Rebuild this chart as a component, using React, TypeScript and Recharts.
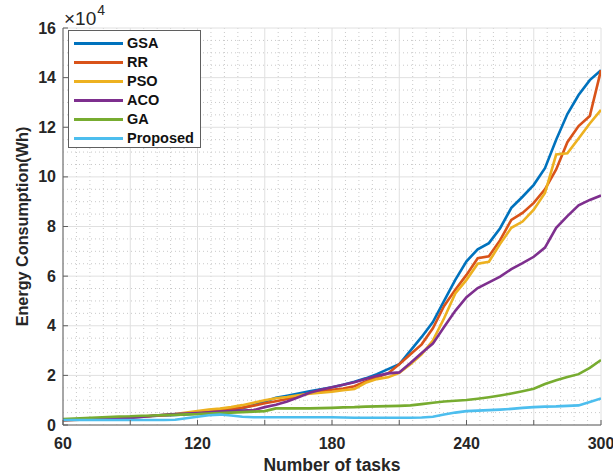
import React from 'react';
import { LineChart, Line, XAxis, YAxis, CartesianGrid } from 'recharts';

const tasks = [60, 65, 70, 75, 80, 85, 90, 95, 100, 105, 110, 115, 120, 125, 130, 135, 140, 145, 150, 155, 160, 165, 170, 175, 180, 185, 190, 195, 200, 205, 210, 215, 220, 225, 230, 235, 240, 245, 250, 255, 260, 265, 270, 275, 280, 285, 290, 295, 300];

// values in units of 10^4 Wh
const gsa = [0.20, 0.22, 0.24, 0.26, 0.28, 0.30, 0.32, 0.34, 0.36, 0.38, 0.40,
  0.43, 0.47, 0.52, 0.57, 0.62, 0.68, 0.80, 0.95, 1.10, 1.18, 1.27,
  1.36, 1.44, 1.52, 1.62, 1.74, 1.88, 2.05, 2.25, 2.45, 3.00, 3.55,
  4.15, 5.00, 5.85, 6.60, 7.08, 7.33, 7.93, 8.75, 9.20, 9.68, 10.35,
  11.50, 12.53, 13.30, 13.90, 14.30];
const rr = [0.18, 0.20, 0.22, 0.24, 0.26, 0.28, 0.30, 0.33, 0.36, 0.39, 0.42,
  0.46, 0.52, 0.57, 0.60, 0.64, 0.70, 0.78, 0.88, 0.96, 1.05, 1.18,
  1.28, 1.36, 1.42, 1.47, 1.56, 1.75, 1.92, 2.08, 2.45, 2.85, 3.25,
  3.90, 4.80, 5.45, 6.05, 6.72, 6.80, 7.45, 8.27, 8.55, 8.95, 9.50,
  10.30, 11.40, 12.05, 12.45, 14.30];
const pso = [0.20, 0.22, 0.24, 0.26, 0.28, 0.30, 0.32, 0.34, 0.37, 0.40, 0.44,
  0.50, 0.56, 0.62, 0.66, 0.72, 0.80, 0.90, 1.00, 1.08, 1.13, 1.20,
  1.26, 1.30, 1.34, 1.40, 1.45, 1.70, 1.85, 1.92, 2.10, 2.45, 2.85,
  3.40, 4.30, 5.30, 5.85, 6.50, 6.58, 7.30, 7.95, 8.20, 8.68, 9.35,
  10.90, 10.95, 11.55, 12.15, 12.70];
const aco = [0.20, 0.21, 0.22, 0.23, 0.24, 0.26, 0.28, 0.32, 0.37, 0.41, 0.44,
  0.46, 0.48, 0.51, 0.54, 0.56, 0.58, 0.60, 0.72, 0.82, 0.95, 1.12,
  1.30, 1.42, 1.52, 1.62, 1.72, 1.85, 1.98, 2.08, 2.12, 2.50, 2.90,
  3.28, 3.95, 4.60, 5.15, 5.52, 5.75, 5.98, 6.28, 6.52, 6.78, 7.15,
  7.95, 8.42, 8.85, 9.07, 9.25];
const ga = [0.24, 0.26, 0.28, 0.30, 0.32, 0.34, 0.35, 0.37, 0.38, 0.40, 0.41,
  0.43, 0.44, 0.46, 0.48, 0.50, 0.52, 0.54, 0.56, 0.67, 0.67, 0.67,
  0.67, 0.68, 0.69, 0.71, 0.72, 0.74, 0.75, 0.76, 0.77, 0.79, 0.84,
  0.90, 0.95, 0.98, 1.01, 1.06, 1.12, 1.19, 1.27, 1.36, 1.46, 1.65,
  1.80, 1.93, 2.05, 2.30, 2.62];
const proposed = [0.20, 0.20, 0.20, 0.20, 0.20, 0.20, 0.20, 0.20, 0.20, 0.20, 0.21,
  0.27, 0.33, 0.39, 0.42, 0.38, 0.33, 0.31, 0.31, 0.31, 0.31, 0.31,
  0.31, 0.31, 0.31, 0.30, 0.29, 0.29, 0.29, 0.29, 0.29, 0.29, 0.30,
  0.33, 0.42, 0.50, 0.56, 0.58, 0.60, 0.62, 0.65, 0.69, 0.72, 0.74,
  0.75, 0.77, 0.79, 0.93, 1.07];

const seriesNames = ['GSA', 'RR', 'PSO', 'ACO', 'GA', 'Proposed'];
const seriesValues = [gsa, rr, pso, aco, ga, proposed];
const seriesColors = ['#0072BD', '#D95319', '#EDB120', '#7E2F8E', '#77AC30', '#4DBEEE'];

const xTicks = [60, 90, 120, 150, 180, 210, 240, 270, 300];
const xLabelTicks = [60, 120, 180, 240, 300];
const yTicks = [0, 2, 4, 6, 8, 10, 12, 14, 16];
const xDomain = [60, 300];
const yDomain = [0, 16];

const xTitle = 'Number of tasks';
const yTitle = 'Energy Consumption(Wh)';
const exponentBase = '×10';
const exponent = '4';

const data = tasks.map((t, i) => {
  const row: any = { tasks: t };
  seriesNames.forEach((n, k) => { row[n] = seriesValues[k][i]; });
  return row;
});

const minorX: number[] = [];
for (let v = 66; v < 300; v += 6) if ((v - 60) % 30 !== 0) minorX.push(v);
const minorY: number[] = [];
for (let v = 0.5; v < 16; v += 0.5) if (v % 2 !== 0) minorY.push(v);

const FONT = '"Liberation Sans", Arial, Helvetica, sans-serif';
const AXIS = '#5f5f5f';
const TXT = '#262626';
const TICK = 5;

const BottomTick = (p: any) => {
  const { x, y, payload } = p;
  return (
    <g>
      <line x1={x} x2={x} y1={y} y2={y - TICK} stroke={AXIS} strokeWidth={1} />
      {xLabelTicks.includes(payload.value) && (
        <text x={x} y={y + 18} textAnchor="middle" dominantBaseline="central"
          fontFamily={FONT} fontWeight="bold" fontSize={16} fill={TXT}>{payload.value}</text>
      )}
    </g>
  );
};
const TopTick = (p: any) => {
  const { x, y } = p;
  return <line x1={x} x2={x} y1={y} y2={y + TICK} stroke={AXIS} strokeWidth={1} />;
};
const LeftTick = (p: any) => {
  const { x, y, payload } = p;
  return (
    <g>
      <line x1={x} x2={x + TICK} y1={y} y2={y} stroke={AXIS} strokeWidth={1} />
      <text x={x - 7} y={y} textAnchor="end" dominantBaseline="central"
        fontFamily={FONT} fontWeight="bold" fontSize={16} fill={TXT}>{payload.value}</text>
    </g>
  );
};
const RightTick = (p: any) => {
  const { x, y } = p;
  return <line x1={x} x2={x - TICK} y1={y} y2={y} stroke={AXIS} strokeWidth={1} />;
};

const XTitle = (p: any) => {
  const vb = p.viewBox || { x: 63, y: 425, width: 538, height: 50 };
  return (
    <text x={vb.x + vb.width / 2} y={vb.y + 40} textAnchor="middle" dominantBaseline="central"
      fontFamily={FONT} fontWeight="bold" fontSize={17.5} fill={TXT}>{xTitle}</text>
  );
};
const YTitle = (p: any) => {
  const vb = p.viewBox || { x: 0, y: 28, width: 63, height: 397 };
  const cx = vb.x + 22;
  const cy = vb.y + vb.height / 2;
  return (
    <text x={cx} y={cy} transform={`rotate(-90 ${cx} ${cy})`} textAnchor="middle" dominantBaseline="central"
      fontFamily={FONT} fontWeight="bold" fontSize={16.2} fill={TXT}>{yTitle}</text>
  );
};

export default function App() {
  return (
    <div style={{ position: 'absolute', left: 0, top: 0, width: 613, height: 475, background: '#fff', fontFamily: FONT }}>
      <LineChart width={613} height={475} data={data} margin={{ top: 28, right: 12, bottom: 0, left: 0 }}>
        <CartesianGrid horizontalValues={minorY} verticalValues={minorX} stroke="#c9c9c9" strokeDasharray="1 3" strokeWidth={1} />
        <CartesianGrid horizontalValues={yTicks} verticalValues={xTicks} stroke="#e0e0e0" strokeWidth={1} />
        <XAxis dataKey="tasks" type="number" domain={xDomain} ticks={xTicks} interval={0}
          height={50} tickSize={0} tickMargin={0} tick={<BottomTick />} axisLine={{ stroke: AXIS }}
          allowDataOverflow label={{ content: <XTitle /> }} />
        <XAxis xAxisId="top" orientation="top" dataKey="tasks" type="number" domain={xDomain} ticks={xTicks}
          interval={0} height={0} tickSize={0} tickMargin={0} tick={<TopTick />} axisLine={{ stroke: AXIS }} />
        <YAxis type="number" domain={yDomain} ticks={yTicks} interval={0} width={63}
          tickSize={0} tickMargin={0} tick={<LeftTick />} axisLine={{ stroke: AXIS }}
          label={{ content: <YTitle /> }} />
        <YAxis yAxisId="right" orientation="right" type="number" domain={yDomain} ticks={yTicks} interval={0}
          width={0} tickSize={0} tickMargin={0} tick={<RightTick />} axisLine={{ stroke: AXIS }} />
        {seriesNames.map((n, k) => (
          <Line key={n} type="linear" dataKey={n} stroke={seriesColors[k]} strokeWidth={2.6}
            dot={false} activeDot={false} isAnimationActive={false} />
        ))}
      </LineChart>
      <svg width={130} height={28} style={{ position: 'absolute', left: 0, top: 0 }}>
        <text x={64} y={25} fontFamily={FONT} fill={TXT}>
          <tspan fontSize={19}>{exponentBase}</tspan>
          <tspan dx={1} dy={-10} fontSize={14}>{exponent}</tspan>
        </text>
      </svg>
      <div style={{ position: 'absolute', left: 68, top: 30, width: 133, height: 118, border: `1px solid ${AXIS}`, background: '#fff', boxSizing: 'border-box' }}>
        {seriesNames.map((n, k) => (
          <div key={n} style={{ position: 'absolute', left: 0, top: 3 + k * 19, height: 19, width: 130 }}>
            <div style={{ position: 'absolute', left: 5, top: 8, width: 49, height: 3, background: seriesColors[k] }} />
            <div style={{ position: 'absolute', left: 58, top: 0, lineHeight: '19px', fontSize: 14.5, fontWeight: 'bold', color: '#111', fontFamily: FONT }}>{n}</div>
          </div>
        ))}
      </div>
    </div>
  );
}
